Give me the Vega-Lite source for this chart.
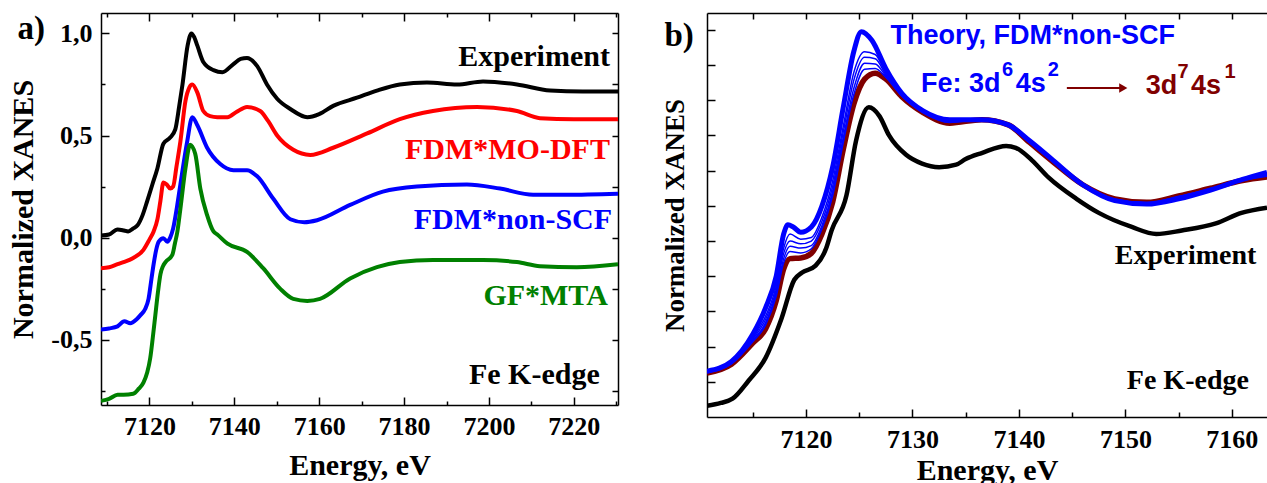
{
"$schema": "https://vega.github.io/schema/vega-lite/v6.json",
"padding": {"left": 8, "top": 12, "right": 0, "bottom": 0},
"background": "white",
"spacing": 42,
"config": {
  "view": {"stroke": null},
  "font": "Liberation Serif",
  "axis": {"grid": false, "domainColor": "#000000", "domainWidth": 1.5, "tickColor": "#000000", "tickWidth": 1.5, "labelFont": "Liberation Serif", "labelFontWeight": "bold", "labelFontSize": 26, "labelColor": "#000000", "labelFlush": false, "labelOverlap": false, "labelBound": false, "titleFont": "Liberation Serif", "titleFontWeight": "bold", "titleFontSize": 30, "titleColor": "#000000"}
},
"datasets": {
  "a": [
    {"s":"Experiment","E":7108.6,"v":0.01},{"s":"Experiment","E":7110.5,"v":0.015},{"s":"Experiment","E":7112.5,"v":0.04},{"s":"Experiment","E":7114.0,"v":0.035},{"s":"Experiment","E":7115.0,"v":0.03},{"s":"Experiment","E":7116.2,"v":0.045},{"s":"Experiment","E":7117.2,"v":0.06},{"s":"Experiment","E":7118.4,"v":0.11},{"s":"Experiment","E":7119.5,"v":0.18},{"s":"Experiment","E":7120.7,"v":0.26},{"s":"Experiment","E":7121.9,"v":0.34},{"s":"Experiment","E":7123.3,"v":0.46},{"s":"Experiment","E":7124.9,"v":0.49},{"s":"Experiment","E":7126.1,"v":0.53},{"s":"Experiment","E":7127.0,"v":0.64},{"s":"Experiment","E":7127.8,"v":0.75},{"s":"Experiment","E":7129.0,"v":0.94},{"s":"Experiment","E":7129.9,"v":1.0},{"s":"Experiment","E":7130.6,"v":0.98},{"s":"Experiment","E":7131.3,"v":0.94},{"s":"Experiment","E":7132.7,"v":0.86},{"s":"Experiment","E":7135.1,"v":0.82},{"s":"Experiment","E":7137.2,"v":0.81},{"s":"Experiment","E":7139.8,"v":0.85},{"s":"Experiment","E":7141.5,"v":0.875},{"s":"Experiment","E":7143.0,"v":0.88},{"s":"Experiment","E":7145.4,"v":0.84},{"s":"Experiment","E":7147.7,"v":0.75},{"s":"Experiment","E":7150.1,"v":0.68},{"s":"Experiment","E":7153.2,"v":0.63},{"s":"Experiment","E":7157.2,"v":0.59},{"s":"Experiment","E":7160.0,"v":0.605},{"s":"Experiment","E":7163.3,"v":0.645},{"s":"Experiment","E":7168.9,"v":0.685},{"s":"Experiment","E":7173.6,"v":0.72},{"s":"Experiment","E":7179.0,"v":0.75},{"s":"Experiment","E":7185.4,"v":0.76},{"s":"Experiment","E":7192.5,"v":0.75},{"s":"Experiment","E":7198.6,"v":0.765},{"s":"Experiment","E":7206.6,"v":0.75},{"s":"Experiment","E":7214.4,"v":0.72},{"s":"Experiment","E":7222.1,"v":0.715},{"s":"Experiment","E":7230.4,"v":0.715},
    {"s":"FDM*MO-DFT","E":7108.6,"v":-0.15},{"s":"FDM*MO-DFT","E":7110.5,"v":-0.145},{"s":"FDM*MO-DFT","E":7112.5,"v":-0.13},{"s":"FDM*MO-DFT","E":7113.9,"v":-0.12},{"s":"FDM*MO-DFT","E":7116.2,"v":-0.1},{"s":"FDM*MO-DFT","E":7118.6,"v":-0.06},{"s":"FDM*MO-DFT","E":7120.0,"v":-0.01},{"s":"FDM*MO-DFT","E":7121.0,"v":0.03},{"s":"FDM*MO-DFT","E":7121.9,"v":0.09},{"s":"FDM*MO-DFT","E":7122.6,"v":0.18},{"s":"FDM*MO-DFT","E":7123.3,"v":0.27},{"s":"FDM*MO-DFT","E":7124.1,"v":0.26},{"s":"FDM*MO-DFT","E":7124.9,"v":0.24},{"s":"FDM*MO-DFT","E":7125.6,"v":0.25},{"s":"FDM*MO-DFT","E":7126.4,"v":0.35},{"s":"FDM*MO-DFT","E":7127.3,"v":0.47},{"s":"FDM*MO-DFT","E":7128.5,"v":0.67},{"s":"FDM*MO-DFT","E":7129.4,"v":0.735},{"s":"FDM*MO-DFT","E":7130.1,"v":0.75},{"s":"FDM*MO-DFT","E":7131.3,"v":0.71},{"s":"FDM*MO-DFT","E":7132.7,"v":0.62},{"s":"FDM*MO-DFT","E":7134.3,"v":0.595},{"s":"FDM*MO-DFT","E":7136.0,"v":0.59},{"s":"FDM*MO-DFT","E":7138.4,"v":0.59},{"s":"FDM*MO-DFT","E":7140.5,"v":0.615},{"s":"FDM*MO-DFT","E":7143.0,"v":0.64},{"s":"FDM*MO-DFT","E":7146.1,"v":0.62},{"s":"FDM*MO-DFT","E":7148.0,"v":0.57},{"s":"FDM*MO-DFT","E":7150.1,"v":0.5},{"s":"FDM*MO-DFT","E":7153.9,"v":0.43},{"s":"FDM*MO-DFT","E":7157.9,"v":0.405},{"s":"FDM*MO-DFT","E":7163.3,"v":0.44},{"s":"FDM*MO-DFT","E":7171.3,"v":0.51},{"s":"FDM*MO-DFT","E":7179.0,"v":0.58},{"s":"FDM*MO-DFT","E":7186.8,"v":0.62},{"s":"FDM*MO-DFT","E":7197.2,"v":0.64},{"s":"FDM*MO-DFT","E":7206.6,"v":0.62},{"s":"FDM*MO-DFT","E":7212.0,"v":0.585},{"s":"FDM*MO-DFT","E":7220.0,"v":0.58},{"s":"FDM*MO-DFT","E":7230.4,"v":0.58},
    {"s":"FDM*non-SCF","E":7108.6,"v":-0.45},{"s":"FDM*non-SCF","E":7110.5,"v":-0.445},{"s":"FDM*non-SCF","E":7112.5,"v":-0.435},{"s":"FDM*non-SCF","E":7114.1,"v":-0.41},{"s":"FDM*non-SCF","E":7115.5,"v":-0.42},{"s":"FDM*non-SCF","E":7117.0,"v":-0.4},{"s":"FDM*non-SCF","E":7117.9,"v":-0.38},{"s":"FDM*non-SCF","E":7119.0,"v":-0.35},{"s":"FDM*non-SCF","E":7119.8,"v":-0.3},{"s":"FDM*non-SCF","E":7120.5,"v":-0.2},{"s":"FDM*non-SCF","E":7121.0,"v":-0.13},{"s":"FDM*non-SCF","E":7121.6,"v":-0.06},{"s":"FDM*non-SCF","E":7122.2,"v":-0.02},{"s":"FDM*non-SCF","E":7123.3,"v":-0.003},{"s":"FDM*non-SCF","E":7124.2,"v":-0.02},{"s":"FDM*non-SCF","E":7124.9,"v":0.0},{"s":"FDM*non-SCF","E":7125.6,"v":0.045},{"s":"FDM*non-SCF","E":7126.5,"v":0.15},{"s":"FDM*non-SCF","E":7127.3,"v":0.26},{"s":"FDM*non-SCF","E":7128.9,"v":0.47},{"s":"FDM*non-SCF","E":7130.1,"v":0.59},{"s":"FDM*non-SCF","E":7131.3,"v":0.55},{"s":"FDM*non-SCF","E":7133.6,"v":0.44},{"s":"FDM*non-SCF","E":7136.7,"v":0.36},{"s":"FDM*non-SCF","E":7139.8,"v":0.33},{"s":"FDM*non-SCF","E":7143.0,"v":0.33},{"s":"FDM*non-SCF","E":7145.4,"v":0.3},{"s":"FDM*non-SCF","E":7149.2,"v":0.19},{"s":"FDM*non-SCF","E":7153.2,"v":0.09},{"s":"FDM*non-SCF","E":7156.5,"v":0.075},{"s":"FDM*non-SCF","E":7159.5,"v":0.085},{"s":"FDM*non-SCF","E":7167.3,"v":0.16},{"s":"FDM*non-SCF","E":7175.0,"v":0.225},{"s":"FDM*non-SCF","E":7183.0,"v":0.25},{"s":"FDM*non-SCF","E":7194.8,"v":0.26},{"s":"FDM*non-SCF","E":7202.6,"v":0.24},{"s":"FDM*non-SCF","E":7210.4,"v":0.21},{"s":"FDM*non-SCF","E":7218.2,"v":0.21},{"s":"FDM*non-SCF","E":7230.4,"v":0.215},
    {"s":"GF*MTA","E":7108.6,"v":-0.8},{"s":"GF*MTA","E":7110.5,"v":-0.79},{"s":"GF*MTA","E":7112.5,"v":-0.77},{"s":"GF*MTA","E":7113.9,"v":-0.77},{"s":"GF*MTA","E":7116.2,"v":-0.765},{"s":"GF*MTA","E":7117.5,"v":-0.74},{"s":"GF*MTA","E":7118.6,"v":-0.71},{"s":"GF*MTA","E":7119.5,"v":-0.66},{"s":"GF*MTA","E":7120.2,"v":-0.59},{"s":"GF*MTA","E":7120.8,"v":-0.49},{"s":"GF*MTA","E":7121.4,"v":-0.38},{"s":"GF*MTA","E":7122.0,"v":-0.27},{"s":"GF*MTA","E":7122.6,"v":-0.18},{"s":"GF*MTA","E":7123.2,"v":-0.14},{"s":"GF*MTA","E":7123.8,"v":-0.12},{"s":"GF*MTA","E":7125.4,"v":-0.085},{"s":"GF*MTA","E":7126.0,"v":-0.03},{"s":"GF*MTA","E":7126.6,"v":0.03},{"s":"GF*MTA","E":7127.3,"v":0.14},{"s":"GF*MTA","E":7128.5,"v":0.34},{"s":"GF*MTA","E":7129.6,"v":0.455},{"s":"GF*MTA","E":7130.8,"v":0.41},{"s":"GF*MTA","E":7132.0,"v":0.24},{"s":"GF*MTA","E":7133.6,"v":0.11},{"s":"GF*MTA","E":7135.1,"v":0.03},{"s":"GF*MTA","E":7136.0,"v":0.015},{"s":"GF*MTA","E":7138.4,"v":-0.03},{"s":"GF*MTA","E":7143.0,"v":-0.07},{"s":"GF*MTA","E":7146.8,"v":-0.15},{"s":"GF*MTA","E":7150.8,"v":-0.25},{"s":"GF*MTA","E":7153.9,"v":-0.3},{"s":"GF*MTA","E":7157.2,"v":-0.31},{"s":"GF*MTA","E":7160.2,"v":-0.3},{"s":"GF*MTA","E":7167.3,"v":-0.2},{"s":"GF*MTA","E":7173.6,"v":-0.145},{"s":"GF*MTA","E":7179.0,"v":-0.12},{"s":"GF*MTA","E":7186.8,"v":-0.11},{"s":"GF*MTA","E":7198.6,"v":-0.11},{"s":"GF*MTA","E":7206.6,"v":-0.12},{"s":"GF*MTA","E":7212.0,"v":-0.14},{"s":"GF*MTA","E":7220.7,"v":-0.145},{"s":"GF*MTA","E":7230.4,"v":-0.13}
  ],
  "la": [
    {"t":"Experiment","s":"Experiment","E":7228.5,"v":0.838},
    {"t":"FDM*MO-DFT","s":"FDM*MO-DFT","E":7228.5,"v":0.387},
    {"t":"FDM*non-SCF","s":"FDM*non-SCF","E":7229.0,"v":0.044},
    {"t":"GF*MTA","s":"GF*MTA","E":7228.0,"v":-0.33},
    {"t":"Fe K-edge","s":"Fe K-edge","E":7226.1,"v":-0.716}
  ],
  "ta": [{"t":"a)","E":7088.9,"v":0.975}],
  "b": [
    {"s":"exp","E":7110.7,"v":-0.068},{"s":"exp","E":7112.0,"v":-0.06},{"s":"exp","E":7113.1,"v":-0.048},{"s":"exp","E":7114.6,"v":0.003},{"s":"exp","E":7116.2,"v":0.068},{"s":"exp","E":7117.7,"v":0.18},{"s":"exp","E":7118.9,"v":0.29},{"s":"exp","E":7119.6,"v":0.31},{"s":"exp","E":7120.9,"v":0.33},{"s":"exp","E":7121.9,"v":0.38},{"s":"exp","E":7122.4,"v":0.43},{"s":"exp","E":7123.8,"v":0.53},{"s":"exp","E":7124.7,"v":0.685},{"s":"exp","E":7125.9,"v":0.78},{"s":"exp","E":7126.9,"v":0.755},{"s":"exp","E":7127.8,"v":0.7},{"s":"exp","E":7129.4,"v":0.645},{"s":"exp","E":7130.9,"v":0.62},{"s":"exp","E":7132.5,"v":0.61},{"s":"exp","E":7134.1,"v":0.617},{"s":"exp","E":7135.0,"v":0.633},{"s":"exp","E":7136.5,"v":0.65},{"s":"exp","E":7138.8,"v":0.67},{"s":"exp","E":7139.7,"v":0.665},{"s":"exp","E":7141.2,"v":0.63},{"s":"exp","E":7142.8,"v":0.58},{"s":"exp","E":7145.4,"v":0.52},{"s":"exp","E":7147.5,"v":0.48},{"s":"exp","E":7150.6,"v":0.44},{"s":"exp","E":7152.9,"v":0.42},{"s":"exp","E":7155.3,"v":0.43},{"s":"exp","E":7158.5,"v":0.45},{"s":"exp","E":7160.9,"v":0.48},{"s":"exp","E":7163.3,"v":0.495},
    {"s":"d7","E":7110.7,"v":0.025},{"s":"d7","E":7113.0,"v":0.05},{"s":"d7","E":7115.0,"v":0.11},{"s":"d7","E":7116.2,"v":0.15},{"s":"d7","E":7117.2,"v":0.23},{"s":"d7","E":7117.9,"v":0.32},{"s":"d7","E":7118.5,"v":0.35},{"s":"d7","E":7119.5,"v":0.352},{"s":"d7","E":7120.5,"v":0.365},{"s":"d7","E":7121.5,"v":0.42},{"s":"d7","E":7122.5,"v":0.51},{"s":"d7","E":7123.5,"v":0.66},{"s":"d7","E":7124.5,"v":0.79},{"s":"d7","E":7125.5,"v":0.86},{"s":"d7","E":7126.5,"v":0.877},{"s":"d7","E":7127.5,"v":0.86},{"s":"d7","E":7129.0,"v":0.81},{"s":"d7","E":7131.0,"v":0.765},{"s":"d7","E":7133.5,"v":0.735},{"s":"d7","E":7136.5,"v":0.745},{"s":"d7","E":7139.0,"v":0.73},{"s":"d7","E":7141.0,"v":0.68},{"s":"d7","E":7143.0,"v":0.63},{"s":"d7","E":7146.0,"v":0.56},{"s":"d7","E":7149.0,"v":0.52},{"s":"d7","E":7152.0,"v":0.51},{"s":"d7","E":7155.0,"v":0.528},{"s":"d7","E":7158.0,"v":0.55},{"s":"d7","E":7161.0,"v":0.572},{"s":"d7","E":7163.3,"v":0.582},
    {"s":"t1","E":7110.7,"v":0.028},{"s":"t1","E":7113.0,"v":0.055},{"s":"t1","E":7115.0,"v":0.125},{"s":"t1","E":7116.2,"v":0.186},{"s":"t1","E":7117.2,"v":0.272},{"s":"t1","E":7117.9,"v":0.38},{"s":"t1","E":7118.5,"v":0.42},{"s":"t1","E":7119.5,"v":0.405},{"s":"t1","E":7120.5,"v":0.41},{"s":"t1","E":7121.5,"v":0.468},{"s":"t1","E":7122.5,"v":0.57},{"s":"t1","E":7123.5,"v":0.726},{"s":"t1","E":7124.5,"v":0.88},{"s":"t1","E":7125.5,"v":0.938},{"s":"t1","E":7126.5,"v":0.93},{"s":"t1","E":7127.5,"v":0.878},{"s":"t1","E":7129.0,"v":0.816},{"s":"t1","E":7131.0,"v":0.768},{"s":"t1","E":7133.5,"v":0.741},{"s":"t1","E":7136.5,"v":0.745},{"s":"t1","E":7139.0,"v":0.73},{"s":"t1","E":7141.0,"v":0.683},{"s":"t1","E":7143.0,"v":0.633},{"s":"t1","E":7146.0,"v":0.56},{"s":"t1","E":7149.0,"v":0.517},{"s":"t1","E":7152.0,"v":0.507},{"s":"t1","E":7155.0,"v":0.523},{"s":"t1","E":7158.0,"v":0.547},{"s":"t1","E":7161.0,"v":0.574},{"s":"t1","E":7163.3,"v":0.59},
    {"s":"t2","E":7110.7,"v":0.027},{"s":"t2","E":7113.0,"v":0.054},{"s":"t2","E":7115.0,"v":0.121},{"s":"t2","E":7116.2,"v":0.177},{"s":"t2","E":7117.2,"v":0.262},{"s":"t2","E":7117.9,"v":0.365},{"s":"t2","E":7118.5,"v":0.4},{"s":"t2","E":7119.5,"v":0.392},{"s":"t2","E":7120.5,"v":0.4},{"s":"t2","E":7121.5,"v":0.456},{"s":"t2","E":7122.5,"v":0.555},{"s":"t2","E":7123.5,"v":0.71},{"s":"t2","E":7124.5,"v":0.858},{"s":"t2","E":7125.5,"v":0.922},{"s":"t2","E":7126.5,"v":0.918},{"s":"t2","E":7127.5,"v":0.873},{"s":"t2","E":7129.0,"v":0.814},{"s":"t2","E":7131.0,"v":0.767},{"s":"t2","E":7133.5,"v":0.74},{"s":"t2","E":7136.5,"v":0.745},{"s":"t2","E":7139.0,"v":0.73},{"s":"t2","E":7141.0,"v":0.682},{"s":"t2","E":7143.0,"v":0.632},{"s":"t2","E":7146.0,"v":0.56},{"s":"t2","E":7149.0,"v":0.518},{"s":"t2","E":7152.0,"v":0.508},{"s":"t2","E":7155.0,"v":0.524},{"s":"t2","E":7158.0,"v":0.548},{"s":"t2","E":7161.0,"v":0.573},{"s":"t2","E":7163.3,"v":0.588},
    {"s":"t3","E":7110.7,"v":0.027},{"s":"t3","E":7113.0,"v":0.052},{"s":"t3","E":7115.0,"v":0.117},{"s":"t3","E":7116.2,"v":0.168},{"s":"t3","E":7117.2,"v":0.251},{"s":"t3","E":7117.9,"v":0.35},{"s":"t3","E":7118.5,"v":0.385},{"s":"t3","E":7119.5,"v":0.38},{"s":"t3","E":7120.5,"v":0.387},{"s":"t3","E":7121.5,"v":0.444},{"s":"t3","E":7122.5,"v":0.54},{"s":"t3","E":7123.5,"v":0.693},{"s":"t3","E":7124.5,"v":0.835},{"s":"t3","E":7125.5,"v":0.905},{"s":"t3","E":7126.5,"v":0.903},{"s":"t3","E":7127.5,"v":0.869},{"s":"t3","E":7129.0,"v":0.813},{"s":"t3","E":7131.0,"v":0.767},{"s":"t3","E":7133.5,"v":0.738},{"s":"t3","E":7136.5,"v":0.745},{"s":"t3","E":7139.0,"v":0.73},{"s":"t3","E":7141.0,"v":0.681},{"s":"t3","E":7143.0,"v":0.631},{"s":"t3","E":7146.0,"v":0.56},{"s":"t3","E":7149.0,"v":0.518},{"s":"t3","E":7152.0,"v":0.508},{"s":"t3","E":7155.0,"v":0.526},{"s":"t3","E":7158.0,"v":0.548},{"s":"t3","E":7161.0,"v":0.573},{"s":"t3","E":7163.3,"v":0.586},
    {"s":"t4","E":7110.7,"v":0.026},{"s":"t4","E":7113.0,"v":0.051},{"s":"t4","E":7115.0,"v":0.114},{"s":"t4","E":7116.2,"v":0.161},{"s":"t4","E":7117.2,"v":0.243},{"s":"t4","E":7117.9,"v":0.338},{"s":"t4","E":7118.5,"v":0.37},{"s":"t4","E":7119.5,"v":0.366},{"s":"t4","E":7120.5,"v":0.378},{"s":"t4","E":7121.5,"v":0.434},{"s":"t4","E":7122.5,"v":0.528},{"s":"t4","E":7123.5,"v":0.68},{"s":"t4","E":7124.5,"v":0.817},{"s":"t4","E":7125.5,"v":0.888},{"s":"t4","E":7126.5,"v":0.89},{"s":"t4","E":7127.5,"v":0.865},{"s":"t4","E":7129.0,"v":0.812},{"s":"t4","E":7131.0,"v":0.766},{"s":"t4","E":7133.5,"v":0.737},{"s":"t4","E":7136.5,"v":0.745},{"s":"t4","E":7139.0,"v":0.73},{"s":"t4","E":7141.0,"v":0.681},{"s":"t4","E":7143.0,"v":0.631},{"s":"t4","E":7146.0,"v":0.56},{"s":"t4","E":7149.0,"v":0.519},{"s":"t4","E":7152.0,"v":0.509},{"s":"t4","E":7155.0,"v":0.527},{"s":"t4","E":7158.0,"v":0.549},{"s":"t4","E":7161.0,"v":0.572},{"s":"t4","E":7163.3,"v":0.584},
    {"s":"d6","E":7110.7,"v":0.03},{"s":"d6","E":7113.0,"v":0.058},{"s":"d6","E":7115.0,"v":0.135},{"s":"d6","E":7116.2,"v":0.21},{"s":"d6","E":7117.2,"v":0.3},{"s":"d6","E":7117.9,"v":0.42},{"s":"d6","E":7118.3,"v":0.446},{"s":"d6","E":7118.8,"v":0.44},{"s":"d6","E":7119.5,"v":0.425},{"s":"d6","E":7120.5,"v":0.44},{"s":"d6","E":7121.5,"v":0.5},{"s":"d6","E":7122.5,"v":0.61},{"s":"d6","E":7123.5,"v":0.78},{"s":"d6","E":7124.5,"v":0.94},{"s":"d6","E":7125.2,"v":0.995},{"s":"d6","E":7126.2,"v":0.97},{"s":"d6","E":7127.5,"v":0.89},{"s":"d6","E":7129.0,"v":0.82},{"s":"d6","E":7131.0,"v":0.77},{"s":"d6","E":7133.5,"v":0.745},{"s":"d6","E":7136.5,"v":0.745},{"s":"d6","E":7139.0,"v":0.73},{"s":"d6","E":7141.0,"v":0.685},{"s":"d6","E":7143.0,"v":0.635},{"s":"d6","E":7146.0,"v":0.56},{"s":"d6","E":7149.0,"v":0.515},{"s":"d6","E":7152.0,"v":0.505},{"s":"d6","E":7155.0,"v":0.52},{"s":"d6","E":7158.0,"v":0.545},{"s":"d6","E":7161.0,"v":0.575},{"s":"d6","E":7163.3,"v":0.595}
  ],
  "lb": [
    {"k":"theory","t":"Theory, FDM*non-SCF","E":7141.3,"v":0.96},
    {"k":"bm","t":"Fe: 3d","E":7130.8,"v":0.824},
    {"k":"bs","t":"6","E":7138.4,"v":0.869},
    {"k":"bm","t":"4s","E":7139.7,"v":0.824},
    {"k":"bs","t":"2","E":7142.7,"v":0.869},
    {"k":"rm","t":"3d","E":7151.9,"v":0.818},
    {"k":"rs","t":"7","E":7154.9,"v":0.864},
    {"k":"rm","t":"4s","E":7156.15,"v":0.818},
    {"k":"rs","t":"1","E":7159.3,"v":0.864},
    {"k":"serif","t":"Experiment","E":7162.3,"v":0.335},
    {"k":"serif","t":"Fe K-edge","E":7161.6,"v":-0.02},
    {"k":"panel","t":"b)","E":7106.7,"v":0.955}
  ],
  "arr": [{"x0":7144.5,"x1":7149.8,"v":0.835}]
},
"hconcat": [
  {
    "width": 517, "height": 392,
    "resolve": {"axis": {"x": "independent", "y": "independent"}},
    "layer": [
      {
        "data": {"name": "a"},
        "mark": {"type": "line", "strokeWidth": 4, "interpolate": "monotone", "clip": true},
        "encoding": {
          "x": {"field": "E", "type": "quantitative", "scale": {"domain": [7108.6, 7230.4], "nice": false, "zero": false},
                "axis": {"orient": "bottom", "values": [7120, 7140, 7160, 7180, 7200, 7220], "format": "d", "tickSize": -8, "labelPadding": 16, "title": "Energy, eV", "titlePadding": 11}},
          "y": {"field": "v", "type": "quantitative", "scale": {"domain": [-0.82, 1.1], "nice": false, "zero": false},
                "axis": {"orient": "left", "values": [-0.5, 0, 0.5, 1], "tickSize": -8, "labelPadding": 17, "labelExpr": "(datum.value < 0 ? '-' : '') + replace(format(abs(datum.value), '.1f'), '.', ',')", "title": "Normalized XANES", "titlePadding": 12}},
          "color": {"field": "s", "type": "nominal", "scale": {"domain": ["Experiment", "FDM*MO-DFT", "FDM*non-SCF", "GF*MTA", "Fe K-edge"], "range": ["#000000", "#ff0000", "#0000ff", "#008000", "#000000"]}, "legend": null}
        }
      },
      {
        "data": {"values": [{"E": 7150, "v": 0}]},
        "mark": {"type": "point", "opacity": 0},
        "encoding": {
          "x": {"field": "E", "type": "quantitative", "scale": {"domain": [7108.6, 7230.4], "nice": false, "zero": false},
                "axis": {"orient": "bottom", "values": [7110, 7130, 7150, 7170, 7190, 7210, 7230], "tickSize": -4, "labels": false, "domain": false, "title": null}},
          "y": {"field": "v", "type": "quantitative", "scale": {"domain": [-0.82, 1.1], "nice": false, "zero": false},
                "axis": {"orient": "left", "values": [-0.75, -0.25, 0.25, 0.75], "tickSize": -4, "labels": false, "domain": false, "title": null}}
        }
      },
      {
        "data": {"values": [{"E": 7150, "v": 0}]},
        "mark": {"type": "point", "opacity": 0},
        "encoding": {
          "x": {"field": "E", "type": "quantitative", "scale": {"domain": [7108.6, 7230.4], "nice": false, "zero": false},
                "axis": {"orient": "top", "values": [7120, 7140, 7160, 7180, 7200, 7220], "tickSize": -8, "labels": false, "domain": true, "title": null}},
          "y": {"field": "v", "type": "quantitative", "scale": {"domain": [-0.82, 1.1], "nice": false, "zero": false},
                "axis": {"orient": "right", "values": [-0.5, 0, 0.5, 1], "tickSize": -6, "labels": false, "domain": true, "title": null}}
        }
      },
      {
        "data": {"values": [{"E": 7150, "v": 0}]},
        "mark": {"type": "point", "opacity": 0},
        "encoding": {
          "x": {"field": "E", "type": "quantitative", "scale": {"domain": [7108.6, 7230.4], "nice": false, "zero": false},
                "axis": {"orient": "top", "values": [7110, 7130, 7150, 7170, 7190, 7210, 7230], "tickSize": -4, "labels": false, "domain": false, "title": null}},
          "y": {"field": "v", "type": "quantitative", "scale": {"domain": [-0.82, 1.1], "nice": false, "zero": false},
                "axis": {"orient": "right", "values": [-0.75, -0.25, 0.25, 0.75], "tickSize": -6, "labels": false, "domain": false, "title": null}}
        }
      },
      {
        "data": {"name": "la"},
        "mark": {"type": "text", "font": "Liberation Serif", "fontWeight": "bold", "fontSize": 30, "align": "right", "baseline": "alphabetic"},
        "encoding": {
          "x": {"field": "E", "type": "quantitative", "scale": {"domain": [7108.6, 7230.4], "nice": false, "zero": false}, "axis": null},
          "y": {"field": "v", "type": "quantitative", "scale": {"domain": [-0.82, 1.1], "nice": false, "zero": false}, "axis": null},
          "text": {"field": "t"},
          "color": {"field": "s", "type": "nominal", "legend": null}
        }
      },
      {
        "data": {"name": "ta"},
        "mark": {"type": "text", "font": "Liberation Serif", "fontWeight": "bold", "fontSize": 33, "align": "left", "baseline": "alphabetic", "color": "#000000"},
        "encoding": {
          "x": {"field": "E", "type": "quantitative", "scale": {"domain": [7108.6, 7230.4], "nice": false, "zero": false}, "axis": null},
          "y": {"field": "v", "type": "quantitative", "scale": {"domain": [-0.82, 1.1], "nice": false, "zero": false}, "axis": null},
          "text": {"field": "t"}
        }
      }
    ]
  },
  {
    "width": 560, "height": 404,
    "resolve": {"axis": {"x": "independent", "y": "independent"}},
    "layer": [
      {
        "data": {"name": "b"},
        "transform": [{"filter": "datum.s === 'exp'"}],
        "mark": {"type": "line", "strokeWidth": 4.5, "interpolate": "monotone", "clip": true, "color": "#000000"},
        "encoding": {
          "x": {"field": "E", "type": "quantitative", "scale": {"domain": [7110.7, 7163.3], "nice": false, "zero": false},
                "axis": {"orient": "bottom", "values": [7120, 7130, 7140, 7150, 7160], "format": "d", "tickSize": -8, "labelPadding": 17, "title": "Energy, eV", "titlePadding": 3}},
          "y": {"field": "v", "type": "quantitative", "scale": {"domain": [-0.1, 1.048], "nice": false, "zero": false},
                "axis": {"orient": "left", "values": [0, 0.1, 0.2, 0.3, 0.4, 0.5, 0.6, 0.7, 0.8, 0.9, 1.0], "tickSize": -8, "labels": false, "title": "Normalized XANES", "titleFontSize": 27, "titlePadding": 17}}
        }
      },
      {
        "data": {"name": "b"},
        "transform": [{"filter": "datum.s === 'd7'"}],
        "mark": {"type": "line", "strokeWidth": 5.5, "interpolate": "monotone", "clip": true, "color": "#800000"},
        "encoding": {
          "x": {"field": "E", "type": "quantitative", "scale": {"domain": [7110.7, 7163.3], "nice": false, "zero": false},
                "axis": {"orient": "bottom", "values": [7115, 7125, 7135, 7145, 7155], "tickSize": -5, "labels": false, "domain": false, "title": null}},
          "y": {"field": "v", "type": "quantitative", "scale": {"domain": [-0.1, 1.048], "nice": false, "zero": false}, "axis": null}
        }
      },
      {
        "data": {"name": "b"},
        "transform": [{"filter": "indexof(['t1','t2','t3','t4'], datum.s) >= 0"}],
        "mark": {"type": "line", "strokeWidth": 1.5, "interpolate": "monotone", "clip": true, "color": "#0000ff"},
        "encoding": {
          "x": {"field": "E", "type": "quantitative", "scale": {"domain": [7110.7, 7163.3], "nice": false, "zero": false},
                "axis": {"orient": "top", "values": [7115, 7120, 7125, 7130, 7135, 7140, 7145, 7150, 7155, 7160], "tickSize": -6, "labels": false, "domain": true, "title": null}},
          "y": {"field": "v", "type": "quantitative", "scale": {"domain": [-0.1, 1.048], "nice": false, "zero": false}, "axis": null},
          "detail": {"field": "s", "type": "nominal"}
        }
      },
      {
        "data": {"name": "b"},
        "transform": [{"filter": "datum.s === 'd6'"}],
        "mark": {"type": "line", "strokeWidth": 5, "interpolate": "monotone", "clip": true, "color": "#0000ff"},
        "encoding": {
          "x": {"field": "E", "type": "quantitative", "scale": {"domain": [7110.7, 7163.3], "nice": false, "zero": false}, "axis": null},
          "y": {"field": "v", "type": "quantitative", "scale": {"domain": [-0.1, 1.048], "nice": false, "zero": false}, "axis": null}
        }
      },
      {
        "data": {"name": "arr"},
        "mark": {"type": "rule", "strokeWidth": 2, "color": "#800000"},
        "encoding": {
          "x": {"field": "x0", "type": "quantitative", "scale": {"domain": [7110.7, 7163.3], "nice": false, "zero": false}, "axis": null},
          "x2": {"field": "x1"},
          "y": {"field": "v", "type": "quantitative", "scale": {"domain": [-0.1, 1.048], "nice": false, "zero": false}, "axis": null}
        }
      },
      {
        "data": {"name": "arr"},
        "mark": {"type": "point", "shape": "triangle-right", "filled": true, "size": 90, "opacity": 1, "color": "#800000"},
        "encoding": {
          "x": {"field": "x1", "type": "quantitative", "scale": {"domain": [7110.7, 7163.3], "nice": false, "zero": false}, "axis": null},
          "y": {"field": "v", "type": "quantitative", "scale": {"domain": [-0.1, 1.048], "nice": false, "zero": false}, "axis": null}
        }
      },
      {
        "data": {"name": "lb"},
        "transform": [{"filter": "datum.k === 'theory'"}],
        "mark": {"type": "text", "font": "Liberation Sans", "fontWeight": "bold", "fontSize": 27, "align": "center", "baseline": "alphabetic", "color": "#0000ff"},
        "encoding": {
          "x": {"field": "E", "type": "quantitative", "scale": {"domain": [7110.7, 7163.3], "nice": false, "zero": false}, "axis": null},
          "y": {"field": "v", "type": "quantitative", "scale": {"domain": [-0.1, 1.048], "nice": false, "zero": false}, "axis": null},
          "text": {"field": "t"}
        }
      },
      {
        "data": {"name": "lb"},
        "transform": [{"filter": "datum.k === 'bm'"}],
        "mark": {"type": "text", "font": "Liberation Sans", "fontWeight": "bold", "fontSize": 27, "align": "left", "baseline": "alphabetic", "color": "#0000ff"},
        "encoding": {
          "x": {"field": "E", "type": "quantitative", "scale": {"domain": [7110.7, 7163.3], "nice": false, "zero": false}, "axis": null},
          "y": {"field": "v", "type": "quantitative", "scale": {"domain": [-0.1, 1.048], "nice": false, "zero": false}, "axis": null},
          "text": {"field": "t"}
        }
      },
      {
        "data": {"name": "lb"},
        "transform": [{"filter": "datum.k === 'bs'"}],
        "mark": {"type": "text", "font": "Liberation Sans", "fontWeight": "bold", "fontSize": 20, "align": "left", "baseline": "alphabetic", "color": "#0000ff"},
        "encoding": {
          "x": {"field": "E", "type": "quantitative", "scale": {"domain": [7110.7, 7163.3], "nice": false, "zero": false}, "axis": null},
          "y": {"field": "v", "type": "quantitative", "scale": {"domain": [-0.1, 1.048], "nice": false, "zero": false}, "axis": null},
          "text": {"field": "t"}
        }
      },
      {
        "data": {"name": "lb"},
        "transform": [{"filter": "datum.k === 'rm'"}],
        "mark": {"type": "text", "font": "Liberation Sans", "fontWeight": "bold", "fontSize": 27, "align": "left", "baseline": "alphabetic", "color": "#800000"},
        "encoding": {
          "x": {"field": "E", "type": "quantitative", "scale": {"domain": [7110.7, 7163.3], "nice": false, "zero": false}, "axis": null},
          "y": {"field": "v", "type": "quantitative", "scale": {"domain": [-0.1, 1.048], "nice": false, "zero": false}, "axis": null},
          "text": {"field": "t"}
        }
      },
      {
        "data": {"name": "lb"},
        "transform": [{"filter": "datum.k === 'rs'"}],
        "mark": {"type": "text", "font": "Liberation Sans", "fontWeight": "bold", "fontSize": 20, "align": "left", "baseline": "alphabetic", "color": "#800000"},
        "encoding": {
          "x": {"field": "E", "type": "quantitative", "scale": {"domain": [7110.7, 7163.3], "nice": false, "zero": false}, "axis": null},
          "y": {"field": "v", "type": "quantitative", "scale": {"domain": [-0.1, 1.048], "nice": false, "zero": false}, "axis": null},
          "text": {"field": "t"}
        }
      },
      {
        "data": {"name": "lb"},
        "transform": [{"filter": "datum.k === 'serif'"}],
        "mark": {"type": "text", "font": "Liberation Serif", "fontWeight": "bold", "fontSize": 28, "align": "right", "baseline": "alphabetic", "color": "#000000"},
        "encoding": {
          "x": {"field": "E", "type": "quantitative", "scale": {"domain": [7110.7, 7163.3], "nice": false, "zero": false}, "axis": null},
          "y": {"field": "v", "type": "quantitative", "scale": {"domain": [-0.1, 1.048], "nice": false, "zero": false}, "axis": null},
          "text": {"field": "t"}
        }
      },
      {
        "data": {"name": "lb"},
        "transform": [{"filter": "datum.k === 'panel'"}],
        "mark": {"type": "text", "font": "Liberation Serif", "fontWeight": "bold", "fontSize": 33, "align": "left", "baseline": "alphabetic", "color": "#000000"},
        "encoding": {
          "x": {"field": "E", "type": "quantitative", "scale": {"domain": [7110.7, 7163.3], "nice": false, "zero": false}, "axis": null},
          "y": {"field": "v", "type": "quantitative", "scale": {"domain": [-0.1, 1.048], "nice": false, "zero": false}, "axis": null},
          "text": {"field": "t"}
        }
      }
    ]
  }
]
}
